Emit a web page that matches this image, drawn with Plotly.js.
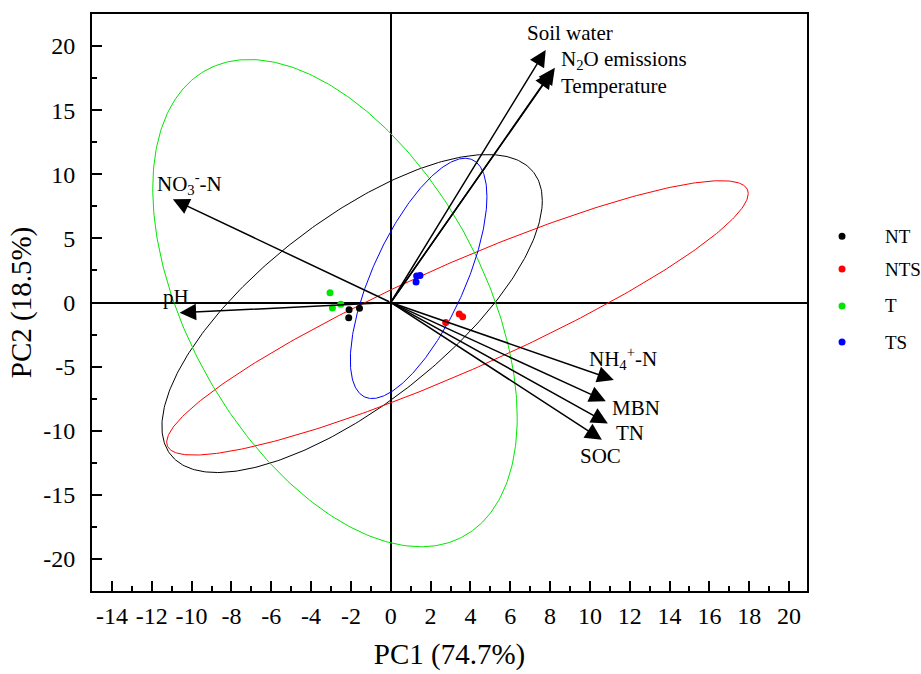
<!DOCTYPE html>
<html><head><meta charset="utf-8">
<script src="https://cdn.plot.ly/plotly-3.0.1.min.js"></script>
<style>body{margin:0;background:#fff}#chart{width:921px;height:674px}</style>
</head><body><div id="chart"></div>
<script>
// ---- data ----
const groups = ['NT', 'NTS', 'T', 'TS'];
const groupColors = ['#000000', '#ff0000', '#00e600', '#0000ff'];
const NT_x = [-2.09, -2.11, -1.57];
const NT_y = [-0.57, -1.19, -0.44];
const NTS_x = [2.76, 3.44, 3.61];
const NTS_y = [-1.56, -0.89, -1.12];
const T_x = [-3.05, -2.93, -2.51];
const T_y = [0.76, -0.42, -0.13];
const TS_x = [1.30, 1.47, 1.27];
const TS_y = [2.06, 2.11, 1.59];
// confidence ellipses: centre, half-extent in x and y, correlation
const ell_cx = [-1.94, 3.35, -2.8, 1.4];
const ell_cy = [-0.86, -1.2, -0.05, 1.88];
const ell_rx = [9.55, 14.6, 9.15, 3.43];
const ell_ry = [12.4, 10.7, 19.0, 9.37];
const ell_rho = [0.71, 0.906, -0.47, 0.68];
// loadings (arrow tips)
const varNames = ['Soil water', 'N<sub>2</sub>O emissions', 'Temperature', 'NO<sub>3</sub><sup>-</sup>-N', 'pH',
  'NH<sub>4</sub><sup>+</sup>-N', 'MBN', 'TN', 'SOC'];
const load_x = [7.78, 8.24, 8.08, -10.94, -10.6, 11.2, 10.8, 10.9, 10.6];
const load_y = [19.7, 18.3, 18.0, 8.05, -0.8, -6.04, -7.7, -9.43, -10.7];
const label_x = [6.79, 8.5, 8.5, -11.8, -11.5, 9.9, 11.05, 11.25, 9.45];
const label_y = [21.0, 18.95, 16.9, 9.3, 0.4, -4.4, -8.2, -10.2, -12.0];
// tick labels (hyphen minus as in the reference)
const xTickVals = [-14, -12, -10, -8, -6, -4, -2, 0, 2, 4, 6, 8, 10, 12, 14, 16, 18, 20];
const xTickText = ['-14', '-12', '-10', '-8', '-6', '-4', '-2', '0', '2', '4', '6', '8', '10', '12', '14', '16', '18', '20'];
const yTickVals = [-20, -15, -10, -5, 0, 5, 10, 15, 20];
const yTickText = ['-20', '-15', '-10', '-5', '0', '5', '10', '15', '20'];

const ptsX = [NT_x, NTS_x, T_x, TS_x];
const ptsY = [NT_y, NTS_y, T_y, TS_y];

const FONT = 'Liberation Serif';
const traces = [];
// ellipses
groups.forEach((g, i) => {
  const xs = [], ys = [];
  const s = Math.sqrt(1 - ell_rho[i] * ell_rho[i]);
  for (let k = 0; k <= 360; k++) {
    const t = k * Math.PI / 180;
    xs.push(ell_cx[i] + ell_rx[i] * Math.cos(t));
    ys.push(ell_cy[i] + ell_ry[i] * (ell_rho[i] * Math.cos(t) + s * Math.sin(t)));
  }
  traces.push({x: xs, y: ys, mode: 'lines', line: {color: groupColors[i], width: 1},
    showlegend: false, hoverinfo: 'skip'});
});
// points
groups.forEach((g, i) => {
  traces.push({x: ptsX[i], y: ptsY[i], mode: 'markers', name: g, showlegend: false,
    marker: {color: groupColors[i], size: 7}});
});

const annotations = [];
varNames.forEach((v, i) => {
  annotations.push({x: load_x[i], y: load_y[i], ax: 0, ay: 0, xref: 'x', yref: 'y',
    axref: 'x', ayref: 'y', text: '', showarrow: true, arrowhead: 2, arrowsize: 2.2,
    arrowwidth: 1.5, arrowcolor: '#000', standoff: 0});
  annotations.push({x: label_x[i], y: label_y[i], xref: 'x', yref: 'y', text: v,
    showarrow: false, xanchor: 'left', yanchor: 'middle', borderpad: 0,
    font: {family: FONT, size: 21, color: '#000'}});
});

// legend (drawn outside the plot area, on the right)
const legY = [0.615, 0.558, 0.494, 0.4315];
const shapes = [];
groups.forEach((g, i) => {
  shapes.push({type: 'circle', xref: 'paper', yref: 'paper', xsizemode: 'pixel', ysizemode: 'pixel',
    xanchor: 1.049, yanchor: legY[i], x0: -3.5, x1: 3.5, y0: -3.5, y1: 3.5,
    fillcolor: groupColors[i], line: {width: 0}});
  annotations.push({x: 1.106, y: legY[i], xref: 'paper', yref: 'paper', text: g, showarrow: false,
    xanchor: 'left', yanchor: 'middle', font: {family: FONT, size: 19, color: '#000'}});
});

const layout = {
  width: 921, height: 674,
  margin: {l: 92, r: 114, t: 14, b: 83},
  paper_bgcolor: '#fff', plot_bgcolor: '#fff',
  font: {family: FONT, color: '#000'},
  showlegend: false,
  xaxis: {range: [-15, 20.9], tickmode: 'array', tickvals: xTickVals, ticktext: xTickText,
    ticks: 'inside', ticklen: 10, tickwidth: 2,
    tickcolor: '#000', showgrid: false, showline: true, mirror: true, linecolor: '#000', linewidth: 2,
    zeroline: true, zerolinecolor: '#000', zerolinewidth: 2,
    minor: {ticks: 'inside', tickmode: 'linear', tick0: 0, dtick: 1, ticklen: 5, tickwidth: 2, tickcolor: '#000'},
    tickfont: {family: FONT, size: 24}, ticklabelstandoff: 2,
    title: {text: 'PC1 (74.7%)', font: {family: FONT, size: 29}, standoff: 16}},
  yaxis: {range: [-22.5, 22.5], tickmode: 'array', tickvals: yTickVals, ticktext: yTickText,
    ticks: 'inside', ticklen: 10, tickwidth: 2,
    tickcolor: '#000', showgrid: false, showline: true, mirror: true, linecolor: '#000', linewidth: 2,
    zeroline: true, zerolinecolor: '#000', zerolinewidth: 2,
    minor: {ticks: 'inside', tickmode: 'linear', tick0: 0, dtick: 2.5, ticklen: 5, tickwidth: 2, tickcolor: '#000'},
    tickfont: {family: FONT, size: 24}, ticklabelstandoff: 10,
    title: {text: 'PC2 (18.5%)', font: {family: FONT, size: 29}, standoff: 3}},
  shapes: shapes,
  annotations: annotations
};
Plotly.newPlot('chart', traces, layout, {displayModeBar: false});
</script></body></html>
